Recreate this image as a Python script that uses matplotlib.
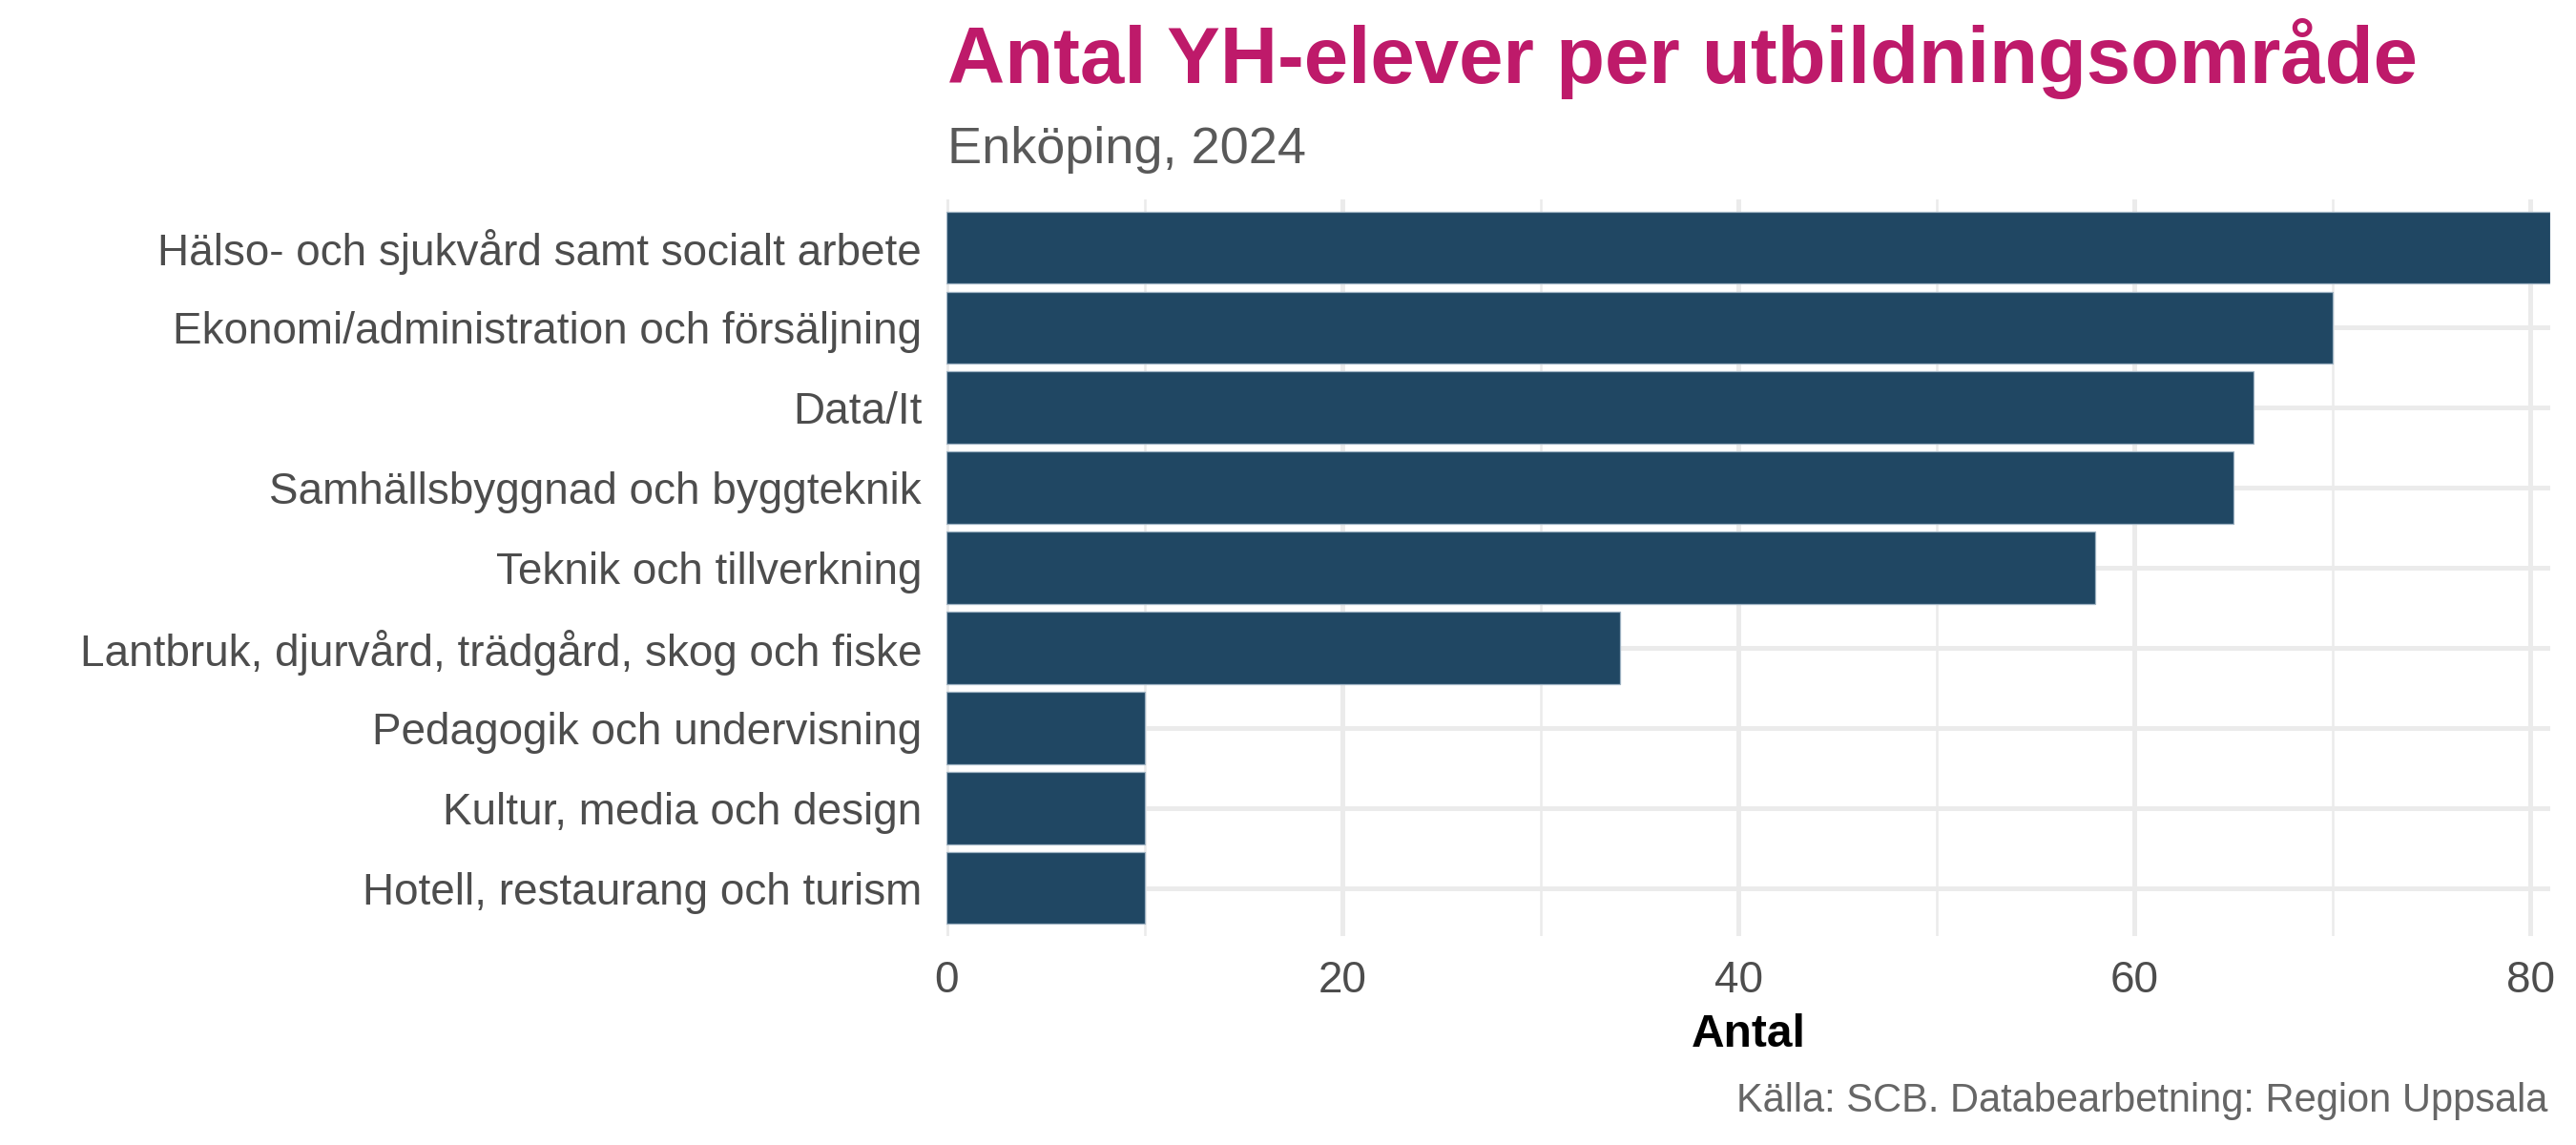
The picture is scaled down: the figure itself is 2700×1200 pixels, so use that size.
import matplotlib
matplotlib.use("Agg")
import matplotlib.pyplot as plt
from matplotlib.ticker import MultipleLocator

categories = [
    "Hälso- och sjukvård samt socialt arbete",
    "Ekonomi/administration och försäljning",
    "Data/It",
    "Samhällsbyggnad och byggteknik",
    "Teknik och tillverkning",
    "Lantbruk, djurvård, trädgård, skog och fiske",
    "Pedagogik och undervisning",
    "Kultur, media och design",
    "Hotell, restaurang och turism",
]
antal = [81, 70, 66, 65, 58, 34, 10, 10, 10]

title = "Antal YH-elever per utbildningsområde"
subtitle = "Enköping, 2024"
caption = "Källa: SCB. Databearbetning: Region Uppsala"

BAR_COLOR = "#204763"
TITLE_COLOR = "#BE1A6A"
GRID_COLOR = "#EBEBEB"

plt.rcParams["font.family"] = ["Liberation Sans", "DejaVu Sans"]

W, H = 2700, 1200
fig = plt.figure(figsize=(9, 4), dpi=300)
ax = fig.add_axes([992 / W, 1 - 981 / H, (2673 - 992) / W, (981 - 209) / H])

ypos = list(range(len(categories)))
ax.barh(ypos, antal, height=0.9, color=BAR_COLOR, edgecolor="#9fb3c3",
        linewidth=0.3, zorder=3)

ax.set_xlim(0, 81)
ax.set_ylim(len(categories) - 1 + 0.6, -0.6)
ax.set_yticks(ypos)
ax.set_yticklabels(categories)
ax.xaxis.set_major_locator(MultipleLocator(20))
ax.xaxis.set_minor_locator(MultipleLocator(10))

ax.grid(which="major", color=GRID_COLOR, linewidth=1.2, zorder=0)
ax.grid(which="minor", axis="x", color=GRID_COLOR, linewidth=0.6, zorder=0)
ax.set_axisbelow(True)
for side in ax.spines.values():
    side.set_visible(False)
ax.tick_params(which="both", length=0)
ax.tick_params(axis="x", labelsize=11, labelcolor="#4D4D4D", pad=6)
ax.tick_params(axis="y", labelsize=11, labelcolor="#4D4D4D", pad=6.2)

fig.text(993 / W, 1 - 87 / H, title, fontsize=20, fontweight="bold",
         color=TITLE_COLOR, ha="left", va="baseline")
fig.text(993 / W, 1 - 171 / H, subtitle, fontsize=13, color="#595959",
         ha="left", va="baseline")
fig.text((992 + 2673) / 2 / W, 1 - 1097 / H, "Antal", fontsize=11.5,
         fontweight="bold", color="black", ha="center", va="baseline")
fig.text(2670 / W, 1 - 1165 / H, caption, fontsize=10, color="#666666",
         ha="right", va="baseline")

fig.savefig("out.png", dpi=300, facecolor="white")
